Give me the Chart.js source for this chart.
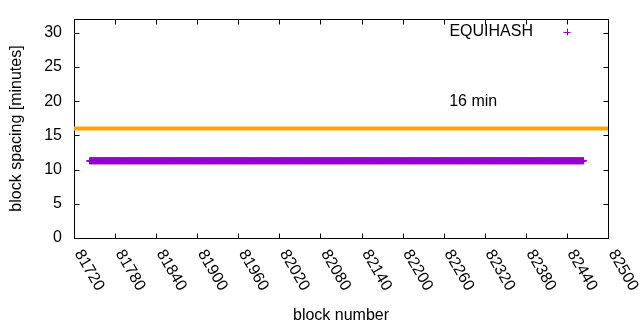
<!DOCTYPE html>
<html>
<head>
<meta charset="utf-8">
<title>block spacing</title>
<script src="https://cdn.jsdelivr.net/npm/chart.js@4"></script>
<style>
  body { margin: 0; background: #fff; }
  #wrap { width: 640px; height: 330px; }
</style>
</head>
<body>
<div id="wrap"><canvas id="spacingChart" width="640" height="330"></canvas></div>
<script>
// values
const xTicks = [81720, 81780, 81840, 81900, 81960, 82020, 82080, 82140, 82200, 82260, 82320, 82380, 82440, 82500];
const yTicks = [0, 5, 10, 15, 20, 25, 30];
const blockRange = [81743, 82464];   // first / last block drawn
const spacingMinutes = 11.3;         // every block sits on the same value
const targetSpacing = 16;            // the "16 min" line
const seriesName = 'EQUIHASH';
const targetLabel = '16 min';

// one point per block
const equihashPoints = [];
for (let b = blockRange[0]; b <= blockRange[1]; b++) {
  equihashPoints.push({ x: b, y: spacingMinutes });
}
const targetPoints = [
  { x: xTicks[0], y: targetSpacing },
  { x: xTicks[xTicks.length - 1], y: targetSpacing }
];

Chart.defaults.font.family = '"Liberation Sans", Arial, sans-serif';
Chart.defaults.font.size = 16;
Chart.defaults.color = '#000';

// gnuplot-ish frame: border, inward ticks, rotated x labels, key and label
const gnuplotFrame = {
  id: 'gnuplotFrame',
  beforeDatasetsDraw(chart) {
    const ctx = chart.ctx;
    const a = chart.chartArea;
    const xs = chart.scales.x, ys = chart.scales.y;
    const L = Math.round(a.left) + 0.5, R = Math.round(a.right) + 0.5;
    const T = Math.round(a.top) + 0.5, B = Math.round(a.bottom) + 0.5;
    ctx.save();
    ctx.strokeStyle = '#000';
    ctx.lineWidth = 1;
    ctx.strokeRect(L, T, R - L, B - T);
    ctx.beginPath();
    xTicks.forEach(v => {
      const px = Math.round(xs.getPixelForValue(v)) + 0.5;
      ctx.moveTo(px, B); ctx.lineTo(px, B - 5);
      ctx.moveTo(px, T); ctx.lineTo(px, T + 5);
    });
    yTicks.forEach(v => {
      const py = Math.round(ys.getPixelForValue(v)) + 0.5;
      ctx.moveTo(L, py); ctx.lineTo(L + 5, py);
      ctx.moveTo(R, py); ctx.lineTo(R - 5, py);
    });
    ctx.stroke();
    ctx.restore();
  },
  afterDraw(chart) {
    const ctx = chart.ctx;
    const a = chart.chartArea;
    const xs = chart.scales.x, ys = chart.scales.y;
    ctx.save();
    ctx.fillStyle = '#000';
    ctx.font = '16px "Liberation Sans", Arial, sans-serif';

    // x tick labels, rotated going down-right
    ctx.textAlign = 'left';
    ctx.textBaseline = 'middle';
    xTicks.forEach(v => {
      const px = xs.getPixelForValue(v);
      ctx.save();
      ctx.translate(px + 4, a.bottom + 13);
      ctx.rotate(Math.PI / 3);
      ctx.fillText(String(v), 0, 0);
      ctx.restore();
    });

    // label next to the target line
    ctx.fillText(targetLabel, xs.getPixelForValue(82268), ys.getPixelForValue(20));

    // key
    ctx.textAlign = 'right';
    ctx.fillText(seriesName, a.right - 75, a.top + 13);
    const mx = a.right - 41, my = a.top + 13;
    ctx.strokeStyle = '#9400d3';
    ctx.lineWidth = 1;
    ctx.beginPath();
    ctx.moveTo(mx - 3.5, my + 0.5); ctx.lineTo(mx + 3.5, my + 0.5);
    ctx.moveTo(mx + 0.5, my - 3.5); ctx.lineTo(mx + 0.5, my + 3.5);
    ctx.stroke();
    ctx.restore();
  }
};

new Chart(document.getElementById('spacingChart'), {
  type: 'scatter',
  data: {
    datasets: [
      {
        label: seriesName,
        data: equihashPoints,
        showLine: false,
        pointStyle: 'cross',
        pointRadius: 3.5,
        pointBorderWidth: 1.5,
        borderColor: '#9400d3',
        backgroundColor: '#9400d3'
      },
      {
        label: targetLabel,
        data: targetPoints,
        showLine: true,
        borderColor: '#ffa500',
        borderWidth: 4,
        borderCapStyle: 'square',
        pointRadius: 0
      }
    ]
  },
  options: {
    responsive: false,
    animation: false,
    layout: { padding: { left: 0, top: 19, right: 32, bottom: 0 } },
    plugins: {
      legend: { display: false },
      tooltip: { enabled: false }
    },
    scales: {
      x: {
        type: 'linear',
        min: xTicks[0],
        max: xTicks[xTicks.length - 1],
        grid: { display: false, drawTicks: false },
        border: { display: false },
        ticks: { display: false, stepSize: 60 },
        title: { display: true, text: 'block number', padding: { top: 0, bottom: 5 } },
        afterFit(scale) {
          scale.height = 92;
          scale.paddingLeft = 0; scale.paddingRight = 0;
        }
      },
      y: {
        min: 0,
        max: 32,
        grid: { display: false, drawTicks: false },
        border: { display: false },
        ticks: { stepSize: 5, padding: 12 },
        afterBuildTicks(scale) {
          scale.ticks = yTicks.map(v => ({ value: v }));
        },
        title: { display: true, text: 'block spacing [minutes]', padding: { top: 7, bottom: 0 } },
        afterFit(scale) {
          scale.width = 74;
          scale.paddingTop = 0; scale.paddingBottom = 0;
        }
      }
    }
  },
  plugins: [gnuplotFrame]
});
</script>
</body>
</html>
